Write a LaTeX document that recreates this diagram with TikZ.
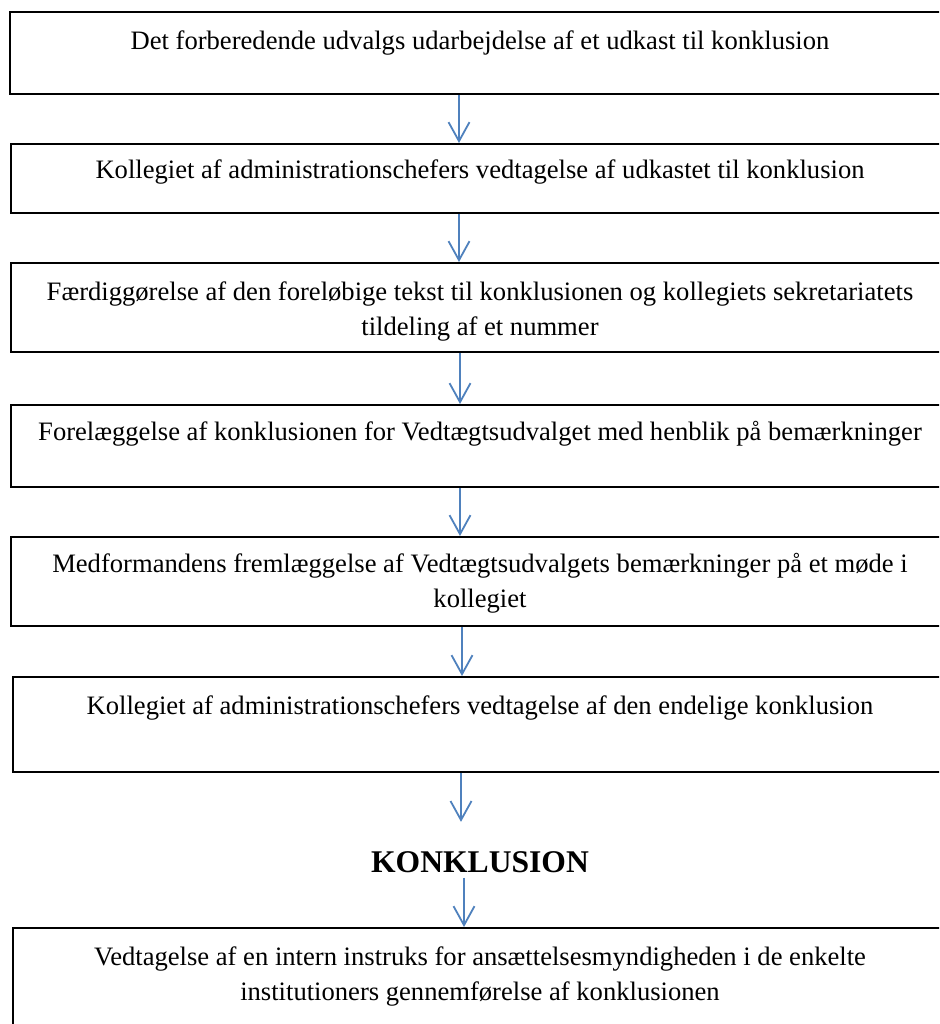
\documentclass[tikz,border=0pt]{standalone}
\usepackage{fontspec}
\setmainfont{Liberation Serif}
\usetikzlibrary{arrows.meta}

\definecolor{flowblue}{RGB}{79,129,189}

\tikzset{
  stepbox/.style={draw, line width=1.8pt, rectangle, anchor=north west, minimum width=940pt, inner sep=0pt},
  steptext/.style={anchor=base, align=center, inner sep=0pt, font=\fontsize{26.6}{35}\selectfont},
  flow/.style={draw=flowblue, line width=1.8pt, -{Straight Barb[length=19pt, width=21pt, line width=1.8pt]}}
}

\begin{document}
\begin{tikzpicture}[x=1pt, y=-1pt]

        \useasboundingbox (0,0) rectangle (939,1024);
        \clip (0,0) rectangle (939,1024);

        % Boxes
        \node[stepbox, minimum height=82pt] (b1) at (9, 11) {};
        \node[stepbox, minimum height=69pt] (b2) at (10, 143) {};
        \node[stepbox, minimum height=89pt] (b3) at (10, 262) {};
        \node[stepbox, minimum height=82pt] (b4) at (10, 404) {};
        \node[stepbox, minimum height=89pt] (b5) at (10, 536) {};
        \node[stepbox, minimum height=95pt] (b6) at (12, 676) {};
        \node[stepbox, minimum height=103pt] (b7) at (12, 927) {};

        % Texts (base = last line)
        \node[steptext] (t1) at (480, 50) {Det forberedende udvalgs udarbejdelse af et udkast til konklusion};
        \node[steptext] (t2) at (480, 179) {Kollegiet af administrationschefers vedtagelse af udkastet til konklusion};
        \node[steptext] (t3) at (480, 335) {Færdiggørelse af den foreløbige tekst til konklusionen og kollegiets sekretariatets\\tildeling af et nummer};
        \node[steptext] (t4) at (480, 440) {Forelæggelse af konklusionen for Vedtægtsudvalget med henblik på bemærkninger};
        \node[steptext] (t5) at (480, 607) {Medformandens fremlæggelse af Vedtægtsudvalgets bemærkninger på et møde i\\kollegiet};
        \node[steptext] (t6) at (480, 714) {Kollegiet af administrationschefers vedtagelse af den endelige konklusion};
        \node[steptext] (t7) at (480, 1000) {Vedtagelse af en intern instruks for ansættelsesmyndigheden i de enkelte\\institutioners gennemførelse af konklusionen};

        \node[anchor=base, inner sep=0pt, font=\fontsize{31.6}{36}\selectfont\bfseries] (k) at (480, 872) {KONKLUSION};

        % Arrows
        \coordinate (ax1) at (459, 0);
        \coordinate (ax2) at (459, 0);
        \coordinate (ax3) at (460, 0);
        \coordinate (ax4) at (460, 0);
        \coordinate (ax5) at (462, 0);
        \coordinate (ax6) at (461, 0);
        \coordinate (ax7) at (464, 0);
        \draw[flow] (b1.south -| ax1) -- (b2.north -| ax1);
        \draw[flow] (b2.south -| ax2) -- (b3.north -| ax2);
        \draw[flow] (b3.south -| ax3) -- (b4.north -| ax3);
        \draw[flow] (b4.south -| ax4) -- (b5.north -| ax4);
        \draw[flow] (b5.south -| ax5) -- (b6.north -| ax5);
        \draw[flow, shorten >=29pt] (b6.south -| ax6) -- (k.north -| ax6);
        \draw[flow, shorten <=5pt] (k.south -| ax7) -- (b7.north -| ax7);

\end{tikzpicture}
\end{document}
